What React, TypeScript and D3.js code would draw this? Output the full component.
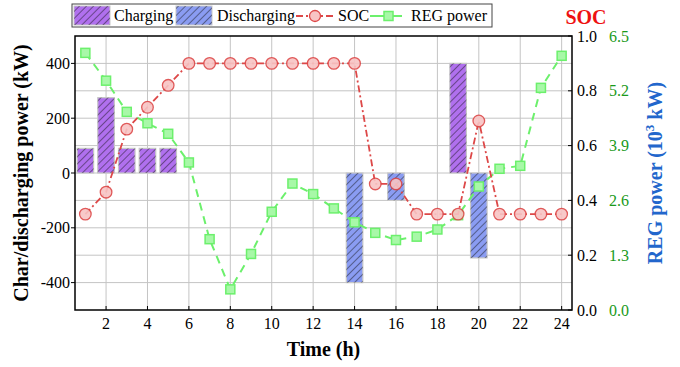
import React from "react";
import * as d3 from "d3";

const hours = d3.range(1, 25);
const charging: [number, number][] = [[1, 90], [2, 275], [3, 90], [4, 90], [5, 90], [19, 400]];
const discharging: [number, number][] = [[14, -400], [16, -100], [20, -310]];
const soc = [0.35, 0.43, 0.66, 0.74, 0.82, 0.9, 0.9, 0.9, 0.9, 0.9, 0.9, 0.9, 0.9, 0.9, 0.46, 0.46, 0.35, 0.35, 0.35, 0.69, 0.35, 0.35, 0.35, 0.35];
const reg = [6.1, 5.44, 4.7, 4.43, 4.18, 3.5, 1.68, 0.49, 1.33, 2.33, 3.0, 2.75, 2.41, 2.08, 1.83, 1.66, 1.74, 1.91, 2.25, 2.93, 3.35, 3.42, 5.27, 6.03];
const xTicks = [2, 4, 6, 8, 10, 12, 14, 16, 18, 20, 22, 24];
const leftTicks = [-400, -200, 0, 200, 400];
const socTicks = [0, 0.2, 0.4, 0.6, 0.8, 1.0];
const regTicks = [0, 1.3, 2.6, 3.9, 5.2, 6.5];

const W = 680, H = 367;
const L = 75, R = 572, T = 36, B = 310;
const FONT = "Liberation Serif, DejaVu Serif, serif";

export default function App() {
  const x = d3.scaleLinear().domain([0.5, 24.5]).range([L, R]);
  const y = d3.scaleLinear().domain([-500, 500]).range([B, T]);
  const ys = d3.scaleLinear().domain([0, 1]).range([B, T]);
  const yr = d3.scaleLinear().domain([0, 6.5]).range([B, T]);
  const bw = (x(1) - x(0)) * 0.8;
  const socLine = d3.line<number>().x((_, i) => x(hours[i])).y((d) => ys(d));
  const regLine = d3.line<number>().x((_, i) => x(hours[i])).y((d) => yr(d));
  const gridY = d3.range(-400, 500, 100);
  const chargeColor = "#b070ee";
  const dischargeColor = "#8a9cf2";
  const socStroke = "#dd4848";
  const socFill = "#f8c4c4";
  const regStroke = "#6cf06c";
  const regFill = "#a8f8a8";

  const bar = (d: [number, number], fill: string, key: string) => {
    const y0 = y(Math.max(0, d[1]));
    const y1 = y(Math.min(0, d[1]));
    return (
      <g key={key}>
        <rect x={x(d[0]) - bw / 2} y={y0} width={bw} height={y1 - y0} fill={fill} stroke="#c8c8c8" strokeWidth={1.2} />
        <rect x={x(d[0]) - bw / 2} y={y0} width={bw} height={y1 - y0} fill="url(#hatch)" />
      </g>
    );
  };

  return (
    <svg width={W} height={H} style={{ position: "absolute", left: 0, top: 0 }}>
      <defs>
        <pattern id="hatch" patternUnits="userSpaceOnUse" width={5} height={5} patternTransform="rotate(45)">
          <line x1={0} y1={0} x2={0} y2={5} stroke="#111" strokeWidth={0.9} />
        </pattern>
        <clipPath id="plot"><rect x={L} y={T} width={R - L} height={B - T} /></clipPath>
      </defs>
      <rect x={0} y={0} width={W} height={H} fill="#fff" />
      <g fontFamily={FONT}>
      {/* grid */}
      {gridY.map((v) => (
        <line key={"gy" + v} x1={L} x2={R} y1={y(v)} y2={y(v)} stroke="#c4c4c4" strokeWidth={1} />
      ))}
      {xTicks.map((v) => (
        <line key={"gx" + v} x1={x(v)} x2={x(v)} y1={T} y2={B} stroke="#c4c4c4" strokeWidth={1} />
      ))}
      {/* bars */}
      {charging.map((d, i) => bar(d, chargeColor, "c" + i))}
      {discharging.map((d, i) => bar(d, dischargeColor, "d" + i))}
      <g clipPath="url(#plot)">
        <path d={regLine(reg) || ""} fill="none" stroke={regStroke} strokeWidth={2} strokeDasharray="8,6" />
        {reg.map((d, i) => (
          <rect key={"r" + i} x={x(hours[i]) - 4.5} y={yr(d) - 4.5} width={9} height={9} fill={regFill} stroke={regStroke} strokeWidth={1.5} />
        ))}
        <path d={socLine(soc) || ""} fill="none" stroke={socStroke} strokeWidth={1.8} strokeDasharray="7,3,2,3" />
        {soc.map((d, i) => (
          <circle key={"s" + i} cx={x(hours[i])} cy={ys(d)} r={5.8} fill={socFill} stroke={socStroke} strokeWidth={1.3} opacity={0.9} />
        ))}
      </g>
      {/* frame */}
      <rect x={L} y={T} width={R - L} height={B - T} fill="none" stroke="#000" strokeWidth={1.5} />
      {/* x ticks */}
      {xTicks.map((v) => (
        <g key={"xt" + v}>
          <line x1={x(v)} x2={x(v)} y1={B} y2={B - 4} stroke="#000" />
          <text x={x(v)} y={B + 19} fontSize={16} textAnchor="middle">{v}</text>
        </g>
      ))}
      {/* left ticks */}
      {leftTicks.map((v) => (
        <g key={"lt" + v}>
          <line x1={L} x2={L - 4} y1={y(v)} y2={y(v)} stroke="#000" />
          <text x={L - 5} y={y(v) + 5.5} fontSize={16} textAnchor="end">{v}</text>
        </g>
      ))}
      {/* right ticks */}
      {socTicks.map((v, i) => (
        <g key={"rt" + i}>
          <line x1={R} x2={R - 4} y1={ys(v)} y2={ys(v)} stroke="#000" />
          <text x={R + 5} y={ys(v) + 5.5} fontSize={16} textAnchor="start">{v.toFixed(1)}</text>
          <text x={R + 37} y={yr(regTicks[i]) + 5.5} fontSize={16} textAnchor="start" fill="#1a9a1a">{regTicks[i].toFixed(1)}</text>
        </g>
      ))}
      {/* titles */}
      <text x={(L + R) / 2} y={356} fontSize={20} fontWeight="bold" textAnchor="middle">Time (h)</text>
      <text transform={`translate(28,${(T + B) / 2}) rotate(-90)`} fontSize={20} fontWeight="bold" textAnchor="middle">Char/discharging power (kW)</text>
      <text x={586} y={24} fontSize={20} fontWeight="bold" textAnchor="middle" fill="#ee1111">SOC</text>
      <text transform={`translate(662,${(T + B) / 2}) rotate(-90)`} fontSize={20} fontWeight="bold" textAnchor="middle" fill="#2266cc">
        REG power (10<tspan dy={-8} fontSize={13}>3</tspan><tspan dy={8}> kW)</tspan>
      </text>
      {/* legend */}
      <g>
        <rect x={72} y={4} width={420} height={23} fill="#fff" stroke="#444" strokeWidth={1} />
        <rect x={74} y={6} width={36} height={19} fill={chargeColor} stroke="#c8c8c8" />
        <rect x={74} y={6} width={36} height={19} fill="url(#hatch)" />
        <text x={114} y={21} fontSize={16}>Charging</text>
        <rect x={176} y={6} width={36} height={19} fill={dischargeColor} stroke="#c8c8c8" />
        <rect x={176} y={6} width={36} height={19} fill="url(#hatch)" />
        <text x={217} y={21} fontSize={16}>Discharging</text>
        <line x1={296} x2={334} y1={16} y2={16} stroke={socStroke} strokeWidth={1.8} strokeDasharray="7,3,2,3" />
        <circle cx={315} cy={16} r={5.5} fill={socFill} stroke={socStroke} strokeWidth={1.3} />
        <text x={338} y={21} fontSize={16}>SOC</text>
        <line x1={370} x2={402} y1={16} y2={16} stroke={regStroke} strokeWidth={2} />
        <rect x={384} y={11.5} width={9} height={9} fill={regFill} stroke={regStroke} strokeWidth={1.5} />
        <text x={411} y={21} fontSize={16}>REG power</text>
      </g>
      </g>
    </svg>
  );
}
